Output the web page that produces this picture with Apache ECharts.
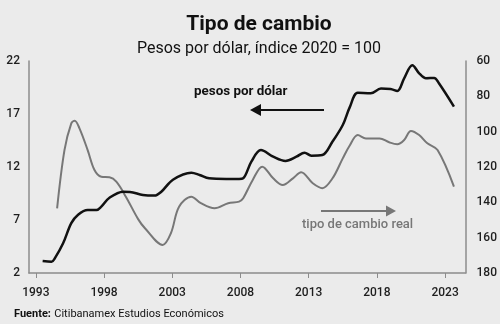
<!DOCTYPE html>
<html>
<head>
<meta charset="utf-8">
<script src="https://cdn.jsdelivr.net/npm/echarts@6/dist/echarts.min.js"></script>
<style>
  html, body { margin: 0; padding: 0; background: #ebebeb; }
  #chart { width: 500px; height: 324px; }
</style>
</head>
<body>
<div id="chart"></div>
<script>
// Nominal exchange rate, pesos per dollar (left axis)
const pesoYears = [1993.5, 1994.15, 1994.4, 1995.0, 1995.6, 1996.1, 1996.8, 1997.45, 1997.8, 1998.4, 1999.4, 1999.9,
  2000.85, 2001.7, 2002.2, 2003.05, 2004.4, 2005.0, 2005.7, 2006.95, 2007.9, 2008.2, 2008.8, 2009.5, 2010.4,
  2011.3, 2012.1, 2012.7, 2013.2, 2014.0, 2014.75, 2015.5, 2016.0, 2016.6, 2017.55, 2018.3, 2019.0, 2019.5,
  2020.0, 2020.6, 2021.1, 2021.6, 2022.2, 2022.55, 2023.65];
const pesoValues = [3.13, 3.07, 3.4, 4.8, 6.7, 7.5, 7.94, 7.94, 8.26, 9.1, 9.67, 9.65,
  9.36, 9.3, 9.67, 10.8, 11.46, 11.25, 10.93, 10.87, 10.87, 10.93, 12.5, 13.6, 12.97,
  12.57, 12.97, 13.35, 13.07, 13.13, 14.4, 15.96, 17.6, 19.0, 18.95, 19.4, 19.36, 19.17,
  20.37, 21.6, 20.84, 20.37, 20.4, 19.9, 17.7];

// Real exchange rate index, 2020 = 100 (right axis, inverted)
const realYears = [1994.56, 1995.1, 1995.6, 1995.85, 1996.2, 1996.8, 1997.3, 1997.8, 1998.4, 1998.9, 1999.6,
  2000.5, 2001.0, 2002.3, 2002.9, 2003.5, 2004.4, 2005.1, 2006.1, 2007.1, 2007.9, 2008.2, 2008.9, 2009.6,
  2010.4, 2011.1, 2011.85, 2012.45, 2013.3, 2014.0, 2014.75, 2015.5, 2016.0, 2016.6, 2017.2, 2018.2, 2018.9,
  2019.5, 2020.0, 2020.5, 2021.1, 2021.7, 2022.45, 2023.65];
const realValues = [143.4, 110.4, 95.3, 93.8, 98.1, 110.4, 121.7, 125.5, 125.8, 128.3, 136.8,
  149.5, 154.7, 164.1, 157.5, 142.5, 136.8, 140.5, 143.4, 140.5, 139.6, 137.7, 127.3, 119.8,
  126.4, 130.2, 126.4, 123.0, 129.2, 132.0, 126.4, 115.1, 108.0, 101.9, 103.8, 103.8, 106.0,
  107.1, 104.7, 99.6, 101.9, 106.6, 110.4, 131.1];

// Axis tick labels
const xTicks = [1993, 1998, 2003, 2008, 2013, 2018, 2023];
const leftTicks = [2, 7, 12, 17, 22];
const rightTicks = [60, 80, 100, 120, 140, 160, 180];

const pair = (xs, ys) => xs.map((x, i) => [x, ys[i]]);

const FONT = 'Roboto';
const axisColor = '#8c8c8c';
const labelStyle = { color: '#1e1e1e', fontSize: 12, fontFamily: FONT, fontWeight: 500 };

const chart = echarts.init(document.getElementById('chart'), null, { renderer: 'canvas' });

chart.setOption({
  backgroundColor: '#ebebeb',
  animation: false,
  title: [
    { text: 'Tipo de cambio', left: 254, top: 9, textAlign: 'center',
      textStyle: { fontFamily: FONT, fontSize: 21, fontWeight: 'bold', color: '#111' } },
    { text: 'Pesos por dólar, índice 2020 = 100', left: 254, top: 36, textAlign: 'center',
      textStyle: { fontFamily: FONT, fontSize: 16, fontWeight: 'normal', color: '#111' } }
  ],
  grid: { left: 29, right: 33, top: 61, bottom: 51 },
  xAxis: {
    type: 'value', min: 1992.5, max: 2024.5,
    axisLine: { show: true, lineStyle: { color: axisColor, width: 1.5 } },
    axisTick: { show: true, customValues: xTicks, length: 5, lineStyle: { color: axisColor } },
    axisLabel: Object.assign({ customValues: xTicks, margin: 14, formatter: v => String(v) }, labelStyle),
    splitLine: { show: false }
  },
  yAxis: [
    {
      type: 'value', min: 2, max: 22, interval: 5, position: 'left',
      axisLine: { show: true, lineStyle: { color: axisColor, width: 1.5 } },
      axisTick: { show: false },
      axisLabel: Object.assign({ margin: 9, customValues: leftTicks }, labelStyle),
      splitLine: { show: false }
    },
    {
      type: 'value', min: 60, max: 180, interval: 20, position: 'right', inverse: true,
      axisLine: { show: true, lineStyle: { color: axisColor, width: 1.5 } },
      axisTick: { show: false },
      axisLabel: Object.assign({ margin: 11, customValues: rightTicks }, labelStyle),
      splitLine: { show: false }
    }
  ],
  series: [
    {
      name: 'tipo de cambio real', type: 'line', yAxisIndex: 1,
      data: pair(realYears, realValues), smooth: 0.35, showSymbol: false,
      lineStyle: { color: '#777777', width: 2 }
    },
    {
      name: 'pesos por dólar', type: 'line', yAxisIndex: 0,
      data: pair(pesoYears, pesoValues), smooth: 0.35, showSymbol: false,
      lineStyle: { color: '#111111', width: 2.5 }
    }
  ],
  graphic: [
    // series annotations with direction arrows
    { type: 'text', left: 194, top: 85,
      style: { text: 'pesos por dólar', font: 'bold 13.4px Roboto', fill: '#111' } },
    { type: 'line', shape: { x1: 324, y1: 110, x2: 257, y2: 110 },
      style: { stroke: '#111', lineWidth: 2 } },
    { type: 'polygon', shape: { points: [[250, 110], [261, 104], [261, 116]] },
      style: { fill: '#111' } },
    { type: 'text', left: 302, top: 218,
      style: { text: 'tipo de cambio real', font: '500 13px Roboto', fill: '#777' } },
    { type: 'line', shape: { x1: 321, y1: 211, x2: 389, y2: 211 },
      style: { stroke: '#777', lineWidth: 2 } },
    { type: 'polygon', shape: { points: [[396, 211], [386, 205.5], [386, 216.5]] },
      style: { fill: '#777' } },
    // source note
    { type: 'text', left: 14, top: 308,
      style: { rich: { b: { font: 'bold 11px Roboto', fill: '#111' }, n: { font: '11px Roboto', fill: '#111' } },
               text: '{b|Fuente:} {n|Citibanamex Estudios Económicos}' } }
  ]
});
</script>
</body>
</html>
